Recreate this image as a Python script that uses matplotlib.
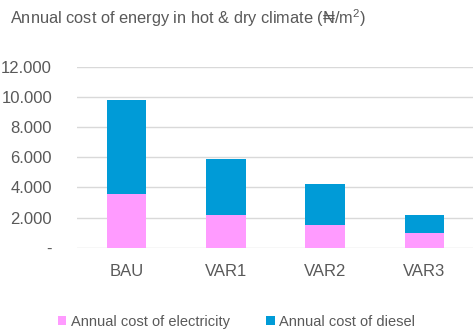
import matplotlib.pyplot as plt
import matplotlib.ticker as mticker
import numpy as np

plt.rcParams['font.family'] = ['Liberation Sans', 'DejaVu Sans']
plt.rcParams['mathtext.fontset'] = 'custom'
plt.rcParams['mathtext.rm'] = 'Liberation Sans'

# ---- data (₦/m²) ----
scenarios = ['BAU', 'VAR1', 'VAR2', 'VAR3']
electricity = [3580, 2160, 1530, 960]
diesel = [6240, 3700, 2720, 1220]

PINK = '#FF9BFF'
BLUE = '#009BD7'
GREY_TXT = '#595959'
GRID = '#D9D9D9'

fig = plt.figure(figsize=(4.73, 3.33), dpi=100)
ax = fig.add_axes([77 / 473, 0.256, 397 / 473, 0.544])

x = np.arange(len(scenarios))
ax.bar(x, electricity, width=0.4, color=PINK, label='Annual cost of electricity', zorder=3)
ax.bar(x, diesel, width=0.4, bottom=electricity, color=BLUE,
       label='Annual cost of diesel', zorder=3)

ax.set_xlim(-0.5, len(scenarios) - 0.5)
ax.set_ylim(0, 12000)
ax.set_yticks(np.arange(0, 12001, 2000))
ax.yaxis.set_major_formatter(mticker.FuncFormatter(
    lambda v, _: '-' if v == 0 else f'{int(v):,}'.replace(',', '.')))
ax.set_xticks(x)
ax.set_xticklabels(scenarios)

ax.grid(axis='y', color=GRID, linewidth=1, zorder=0)
for s in ax.spines.values():
    s.set_visible(False)
ax.tick_params(axis='both', length=0, colors=GREY_TXT, labelsize=12)
ax.tick_params(axis='y', pad=18)
ax.tick_params(axis='x', pad=11.5)

fig.text(10 / 473, 1 - 18 / 333, 'Annual cost of energy in hot & dry climate (₦/m$^2$)',
         fontsize=11.8, color=GREY_TXT, va='center', ha='left')

fig.legend(loc='center', bbox_to_anchor=(0.5, 1 - 322 / 333), ncol=2, frameon=False,
           fontsize=10.5, labelcolor=GREY_TXT, handlelength=0.6, handleheight=0.6,
           handletextpad=0.3, columnspacing=2.5)

fig.savefig('out.png', dpi=100)
